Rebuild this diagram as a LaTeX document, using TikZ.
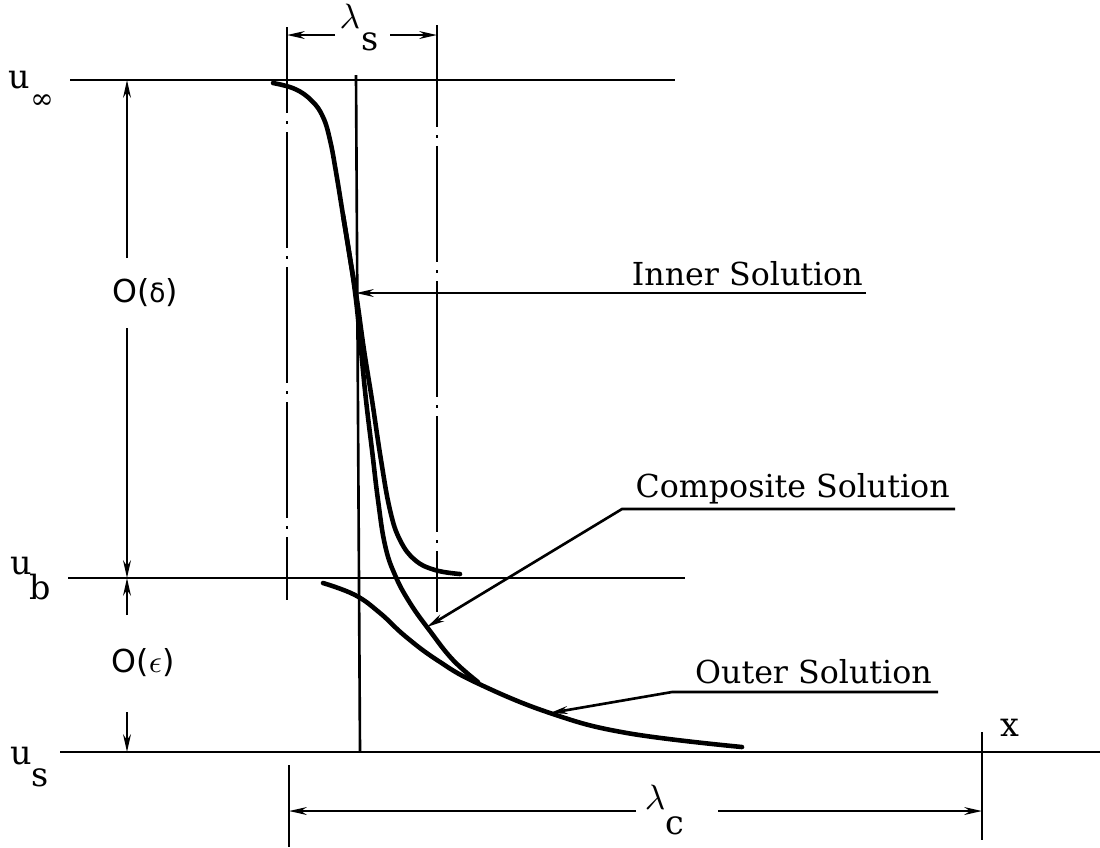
\documentclass[tikz,border=0pt]{standalone}
\usepackage{fontspec}
\setmainfont{DejaVu Serif}
\newfontfamily\labsans{DejaVu Sans}
\usetikzlibrary{arrows.meta}

\begin{document}
\begin{tikzpicture}[x=0.01cm, y=-0.01cm, line width=0.75pt,
    dimarr/.style={-{Stealth[length=5pt,width=2.2pt]}},
    chainline/.style={line width=0.8pt, dash pattern=on 33pt off 2.3pt on 0.8pt off 2.3pt},
    sol/.style={line width=1.3pt, line cap=round},
    lab/.style={font=\fontsize{9}{10}\selectfont, inner sep=0pt},
    sym/.style={font=\fontsize{9.5}{10}\selectfont, inner sep=0pt},
    sub/.style={font=\fontsize{8}{9}\selectfont, inner sep=0pt}]
  \useasboundingbox (0,0) rectangle (1100,847);
  % levels u_inf, u_b, u_s
  \draw (70,80) -- (675,80);
  \draw (68,578) -- (685,578);
  \draw (60,752) -- (1100,752);
  \node[sym] (uinf) at (19,80) {u};
  \node[sub] (uinfsub) at (42,102) {∞};
  \node[sym] (ub) at (21,566) {u};
  \node[sym] (ubsub) at (40,587) {b};
  \node[sym] (us) at (21,756) {u};
  \node[sym] (ussub) at (40,778) {s};
  \node[sym] (xlab) at (1010,728) {x};
  % O(delta), O(epsilon) dimension
  \coordinate (dinf) at (127,80);
  \coordinate (db) at (127,578);
  \coordinate (ds) at (127,752);
  \node[font=\labsans\fontsize{9}{10}\selectfont, inner sep=0pt] (odelta) at (145,293) {O({\fontsize{7.5}{8}\selectfont δ})};
  \node[font=\labsans\fontsize{9}{10}\selectfont, inner sep=0pt] (oeps) at (143,663) {O($\epsilon$)};
  \draw[dimarr] (127,258) -- (dinf);
  \draw[dimarr] (127,328) -- (db);
  \draw[dimarr] (127,615) -- (db);
  \draw[dimarr] (127,712) -- (ds);
  % inner region lambda_s
  \coordinate (cl) at (287,27);
  \coordinate (cr) at (437,25);
  \draw[chainline, dash phase=8.5pt] (cl) -- (287,600);
  \draw[chainline, dash phase=4pt] (cr) -- (437,612);
  \node[font=\fontsize{10}{11}\selectfont, inner sep=0pt] (lams) at (350,16) {$\lambda$};
  \node[sym] (lamssub) at (370,42) {s};
  \draw[dimarr] (335,35) -- (cl |- 0,35);
  \draw[dimarr] (390,35) -- (cr |- 0,35);
  \draw (356,75) -- (360,752);
  % lambda_c
  \coordinate (ccl) at (289,765);
  \coordinate (ccr) at (982,732);
  \draw (ccl) -- (289,847);
  \draw (ccr) -- (982,840);
  \node[font=\fontsize{10}{11}\selectfont, inner sep=0pt] (lamc) at (655,797) {$\lambda$};
  \node[sym] (lamcsub) at (675,826) {c};
  \draw[dimarr] (636,811) -- (ccl |- 0,811);
  \draw[dimarr] (718,811) -- (ccr |- 0,811);
  % solutions
  \draw[sol] plot[smooth, tension=0.7] coordinates {(273,83) (295,89) (312,101) (323,117) (330,140) (336,172) (343,215) (350,258) (357,300) (364,350) (372,400) (381,460) (390,510) (400,540) (415,560) (435,570) (460,574)};
  \draw[sol] plot[smooth, tension=0.7] coordinates {(343,215) (350,258) (356,300) (361,350) (366,400) (372,450) (378,500) (385,545) (395,575) (410,603) (430,631) (453,660) (478,682)};
  \draw[sol] plot[smooth, tension=0.7] coordinates {(323,583) (355,595) (380,613) (405,636) (437,660) (477,683) (550,713) (627,733) (742,747)};
  % labels with leaders
  \node[lab, anchor=base east] (innerlab) at (864,285) {Inner Solution};
  \node[lab, anchor=base east] (complab) at (951,497) {Composite Solution};
  \node[lab, anchor=base east] (outerlab) at (933,683) {Outer Solution};
  \coordinate (innertip) at (356,293);
  \coordinate (comptip) at (427,627);
  \coordinate (outertip) at (550,713);
  \draw[dimarr] (866,293) -- (innertip);
  \draw[dimarr] (955,509) -- (622,509) -- (comptip);
  \draw[dimarr] (938,692) -- (672,692) -- (outertip);
\end{tikzpicture}
\end{document}
